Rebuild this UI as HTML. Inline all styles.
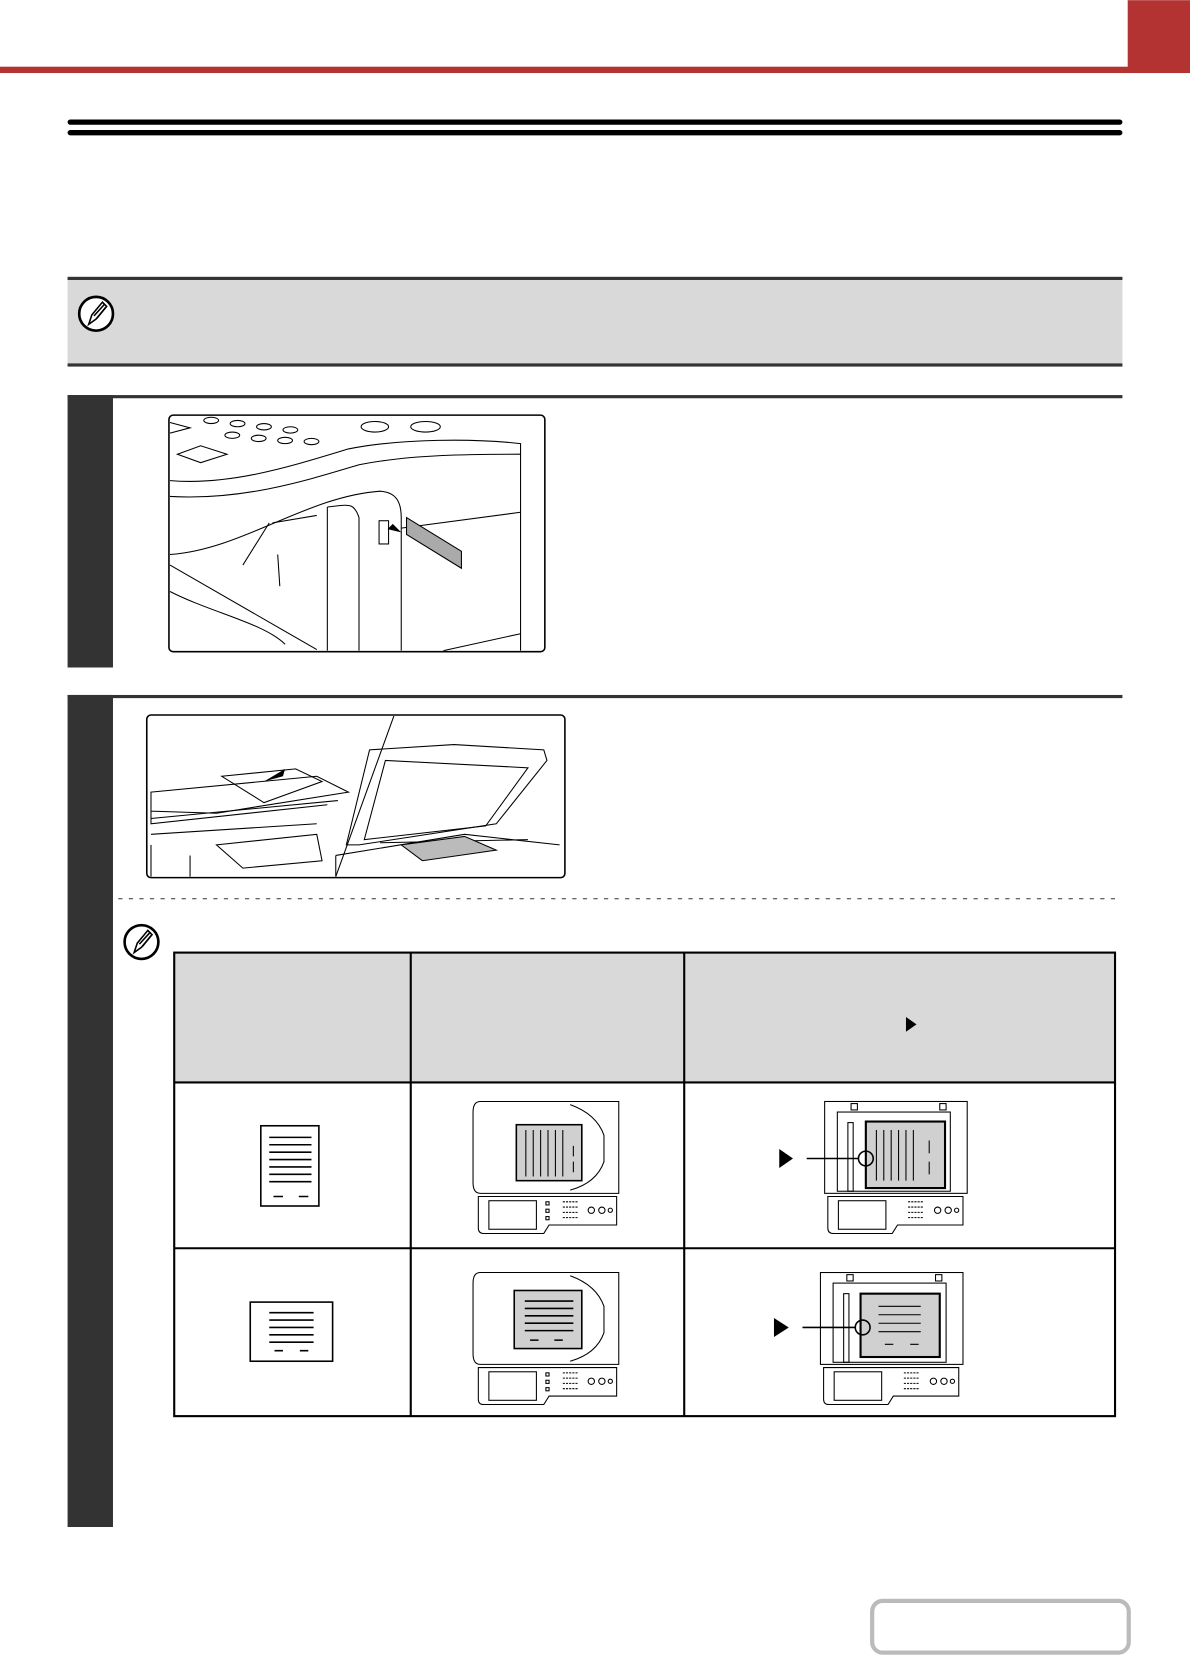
<!DOCTYPE html>
<html><head><meta charset="utf-8"><style>
html,body{margin:0;padding:0;background:#fff}
svg{display:block}
</style></head><body>
<svg width="1190" height="1656" viewBox="0 0 1127 1568" xmlns="http://www.w3.org/2000/svg" font-family="Liberation Sans, sans-serif">
<!-- header -->
<rect x="0" y="63" width="1127" height="6" fill="#b33333"/>
<rect x="1068" y="0" width="59" height="69" fill="#b33333"/>
<rect x="64" y="113" width="999" height="5" rx="2.5" fill="#000"/>
<rect x="64" y="123" width="999" height="5" rx="2.5" fill="#000"/>
<!-- note box -->
<rect x="64" y="262" width="999" height="85" fill="#d9d9d9"/>
<rect x="64" y="262" width="999" height="3" fill="#333"/>
<rect x="64" y="344" width="999" height="3" fill="#333"/>
<g id="pen">
<circle cx="91" cy="297" r="16" fill="#fff" stroke="#000" stroke-width="2.5"/>
<path d="M84 307 L87 298 L97 286 L101 290 L91 302 Z" fill="#fff" stroke="#000" stroke-width="1.5"/>
<path d="M89 299 L99 288 M92 301 L100 291" stroke="#000" stroke-width="1.5"/>
</g>
<!-- step 1 -->
<rect x="64" y="374" width="999" height="3" fill="#333"/>
<rect x="64" y="374" width="43" height="258" fill="#333"/>
<rect x="160" y="393" width="356" height="224" rx="4" fill="#fff" stroke="#000" stroke-width="1.5"/>
<g fill="none" stroke="#000" stroke-width="1">
<path d="M161 455 C220 460 280 440 330 425 C380 415 450 415 493 420 L493 616"/>
<path d="M161 470 C230 474 290 455 340 440 C390 430 450 430 493 430"/>
<path d="M161 525 C230 520 290 470 360 465 C375 466 380 475 380 490 L380 616"/>
<path d="M310 480 C330 478 335 475 340 490 L340 616 M310 480 L310 616"/>
<path d="M380 500 L493 485 M161 535 L300 615 M161 560 C200 580 250 590 270 610 M420 616 L493 600"/>
<ellipse cx="355" cy="404" rx="13" ry="5"/><ellipse cx="403" cy="404" rx="14" ry="5"/>
<ellipse cx="200" cy="398" rx="7" ry="3"/><ellipse cx="225" cy="401" rx="7" ry="3"/><ellipse cx="250" cy="404" rx="7" ry="3"/><ellipse cx="275" cy="407" rx="7" ry="3"/>
<ellipse cx="220" cy="412" rx="7" ry="3"/><ellipse cx="245" cy="415" rx="7" ry="3"/><ellipse cx="270" cy="417" rx="7" ry="3"/><ellipse cx="295" cy="418" rx="7" ry="3"/>
<path d="M168 430 L190 422 L215 430 L190 438 Z M161 400 L180 405 L161 410"/>
<rect x="359" y="493" width="9" height="22"/>
<path d="M230 535 L255 495 M263 525 L265 555 M258 495 L300 488"/>
</g>
<path d="M385 490 L437 522 L437 538 L385 506 Z" fill="#aaa" stroke="#000"/>
<path d="M380 504 L367 501 L372 496 Z" fill="#000"/>
<!-- step 2 -->
<rect x="64" y="658" width="999" height="3" fill="#333"/>
<rect x="64" y="658" width="43" height="788" fill="#333"/>
<rect x="139" y="677" width="396" height="154" rx="4" fill="#fff" stroke="#000" stroke-width="1.5"/>
<g fill="none" stroke="#000" stroke-width="1">
<path d="M373 678 L318 830"/>
<path d="M143 750 L300 735 L330 750 L205 770 L143 768 Z M143 768 L143 780 L310 762"/>
<path d="M210 735 L280 728 L305 740 L250 760 Z"/>
<path d="M143 775 L320 758 M143 790 L300 780 M205 800 L300 790 L305 815 L230 822 Z M143 800 L143 830 M180 810 L180 830"/>
<path d="M328 800 L350 710 L430 705 L515 710 L518 720 L470 780 L340 800 Z"/>
<path d="M345 795 L365 720 L500 727 L460 782 Z"/>
<path d="M318 810 L440 790 L530 800 M318 830 L318 810 M360 798 L500 795"/>
</g>
<path d="M380 800 L440 792 L470 805 L400 815 Z" fill="#bbb" stroke="#000"/>
<path d="M250 740 L270 728 L268 735 Z" fill="#000"/>
<!-- dashed -->
<line x1="112" y1="851" x2="1056" y2="851" stroke="#333" stroke-width="1" stroke-dasharray="4,6"/>
<use href="#pen" transform="translate(43,595)"/>
<!-- table -->
<rect x="165" y="902" width="891" height="123" fill="#d9d9d9"/>
<g stroke="#000" stroke-width="2" fill="none">
<rect x="165" y="902" width="891" height="439"/>
<line x1="165" y1="1025" x2="1056" y2="1025"/>
<line x1="165" y1="1182" x2="1056" y2="1182"/>
<line x1="389" y1="902" x2="389" y2="1341"/>
<line x1="648" y1="902" x2="648" y2="1341"/>
</g>
<path d="M858 963 L868 970 L858 977 Z" fill="#000"/>
<!-- col1 docs -->
<g stroke="#000" fill="none">
<rect x="247" y="1066" width="55" height="76" stroke-width="1.5"/>
<path d="M255 1077H295M255 1084H295M255 1091H295M255 1098H295M255 1105H295M255 1112H295M255 1119H295M259 1133H268M283 1133H292" stroke-width="1.5"/>
<rect x="237" y="1233" width="78" height="56" stroke-width="1.5"/>
<path d="M255 1243H297M255 1250H297M255 1257H297M255 1264H297M255 1271H297M260 1279H268M284 1279H292" stroke-width="1.5"/>
</g>
<!-- col2 ADF -->
<g stroke="#000" fill="none" stroke-width="1">
<g id="adf">
<path d="M455 1043 L586 1043 L586 1130 L455 1130 Q448 1130 448 1120 L448 1053 Q448 1043 455 1043 Z"/>
<path d="M540 1046 Q565 1055 572 1075 L572 1100 Q565 1120 540 1127"/>
<path d="M453 1133 L584 1133 L584 1160 L520 1160 L515 1168 L458 1168 Q453 1168 453 1163 Z"/>
<rect x="463" y="1137" width="45" height="27"/>
<circle cx="560" cy="1146" r="3"/><circle cx="570" cy="1146" r="3"/><circle cx="578" cy="1146" r="2"/>
<path d="M533 1138h14M533 1143h14M533 1148h14M533 1153h14" stroke-dasharray="2,1"/>
<rect x="517" y="1138" width="3" height="3"/><rect x="517" y="1145" width="3" height="3"/><rect x="517" y="1152" width="3" height="3"/>
</g>
<use href="#adf" transform="translate(0,162)"/>
<g id="glass">
<rect x="781" y="1043" width="135" height="87"/>
<rect x="793" y="1053" width="107" height="75"/>
<rect x="803" y="1063" width="5" height="65"/>
<rect x="806" y="1045" width="6" height="6"/><rect x="890" y="1045" width="6" height="6"/>
<path d="M784 1133 L912 1133 L912 1160 L850 1160 L845 1168 L789 1168 Q784 1168 784 1163 Z"/>
<rect x="794" y="1137" width="45" height="27"/>
<circle cx="888" cy="1146" r="3"/><circle cx="898" cy="1146" r="3"/><circle cx="906" cy="1146" r="2"/>
<path d="M860 1138h14M860 1143h14M860 1148h14M860 1153h14" stroke-dasharray="2,1"/>
</g>
<use href="#glass" transform="translate(-4,162)"/>
</g>
<!-- docs on ADF -->
<rect x="489" y="1065" width="62" height="53" fill="#d0d0d0" stroke="#000" stroke-width="1.5"/>
<path d="M498 1070V1114M505 1070V1114M512 1070V1114M519 1070V1114M526 1070V1114M533 1070V1114M543 1085V1095M543 1100V1110" stroke="#000"/>
<rect x="487" y="1222" width="64" height="55" fill="#d0d0d0" stroke="#000" stroke-width="1.5"/>
<path d="M497 1232H543M497 1239H543M497 1246H543M497 1253H543M497 1260H543M502 1269H510M525 1269H533" stroke="#000" stroke-width="1.5"/>
<!-- docs on glass -->
<rect x="820" y="1062" width="75" height="63" fill="#d0d0d0" stroke="#000" stroke-width="2"/>
<path d="M830 1070V1118M837 1070V1118M844 1070V1118M851 1070V1118M858 1070V1118M865 1070V1118M880 1080V1092M880 1100V1112" stroke="#000"/>
<rect x="815" y="1225" width="75" height="60" fill="#d0d0d0" stroke="#000" stroke-width="2"/>
<path d="M832 1237H872M832 1245H872M832 1253H872M832 1261H872M838 1273H846M862 1273H870" stroke="#000"/>
<!-- arrows -->
<path d="M738 1088 L751 1097 L738 1106 Z" fill="#000"/>
<line x1="764" y1="1097" x2="813" y2="1097" stroke="#000" stroke-width="1.5"/>
<circle cx="820" cy="1097" r="7" fill="none" stroke="#000" stroke-width="1.5"/>
<path d="M733 1248 L747 1257 L733 1266 Z" fill="#000"/>
<line x1="760" y1="1257" x2="810" y2="1257" stroke="#000" stroke-width="1.5"/>
<circle cx="817" cy="1257" r="7" fill="none" stroke="#000" stroke-width="1.5"/>
<!-- bottom button -->
<rect x="826" y="1516" width="243" height="49" rx="10" fill="#fff" stroke="#bbb" stroke-width="4"/>
</svg>
</body></html>
